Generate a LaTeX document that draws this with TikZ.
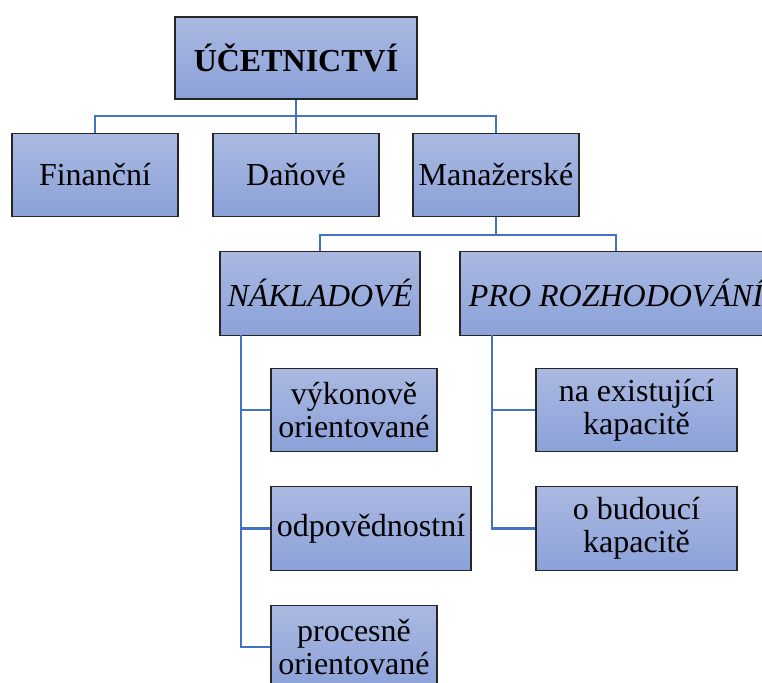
\documentclass[tikz,border=0pt]{standalone}
\usepackage{fontspec}
\setmainfont{Liberation Serif}
\usetikzlibrary{positioning}

\definecolor{boxtop}{HTML}{AAB9E1}
\definecolor{boxbot}{HTML}{8BA1D8}
\definecolor{linkblue}{HTML}{4472C4}

\begin{document}
\begin{tikzpicture}[x=0.75pt, y=-0.75pt,
    unit/.style={draw=black!85, line width=0.8pt, top color=boxtop, bottom color=boxbot,
        minimum width=124.5pt, minimum height=62.5pt, inner sep=1pt, align=center,
        font=\fontsize{24}{24.5}\selectfont},
    link/.style={draw=linkblue, line width=2.2pt}]
            \clip (0,0) rectangle (762,682);

            % top level
            \node[unit, minimum width=181.5pt, minimum height=61.5pt, font=\fontsize{24}{24.5}\selectfont\bfseries] (ucto) at (296,58) {ÚČETNICTVÍ};
            \node[unit] (fin) at (95,175) {Finanční};
            \node[unit] (dan) at (296,175) {Daňové};
            \node[unit] (man) at (496,175) {Manažerské};

            % manazerske
            \node[unit, minimum width=150pt, font=\fontsize{24}{24.5}\selectfont\itshape] (nak) at (320,293.5) {NÁKLADOVÉ};
            \node[unit, minimum width=234pt, font=\fontsize{24}{24.5}\selectfont\itshape] (pro) at (616,293.5) {PRO ROZHODOVÁNÍ};

            % nakladove
            \node[unit] (vyk) at (354,410) {výkonově\\orientované};
            \node[unit, minimum width=150pt] (odp) at (371,528.5) {odpovědnostní};
            \node[unit] (proc) at (354,647) {procesně\\orientované};

            % pro rozhodovani
            \node[unit, minimum width=150.75pt] (exi) at (636.5,410) {na existující\\kapacitě};
            \node[unit, minimum width=150.75pt] (bud) at (636.5,528.5) {o budoucí\\kapacitě};

            \coordinate (bus1) at (296,116);
            \coordinate (bus2) at (496,235);
            \coordinate (nakstem) at (241,335);
            \coordinate (prostem) at (492,335);

            \path[link] (ucto.south) -- (bus1);
            \path[link] (fin.north) |- (bus1) -| (man.north);
            \path[link] (dan.north) -- (bus1);
            \path[link] (man.south) -- (bus2);
            \path[link] (nak.north) |- (bus2) -| (pro.north);
            \path[link] (nakstem) |- (vyk.west);
            \path[link] (nakstem) |- (odp.west);
            \path[link] (nakstem) |- (proc.west);
            \path[link] (prostem) |- (exi.west);
            \path[link] (prostem) |- (bud.west);
        \end{tikzpicture}
\end{document}
